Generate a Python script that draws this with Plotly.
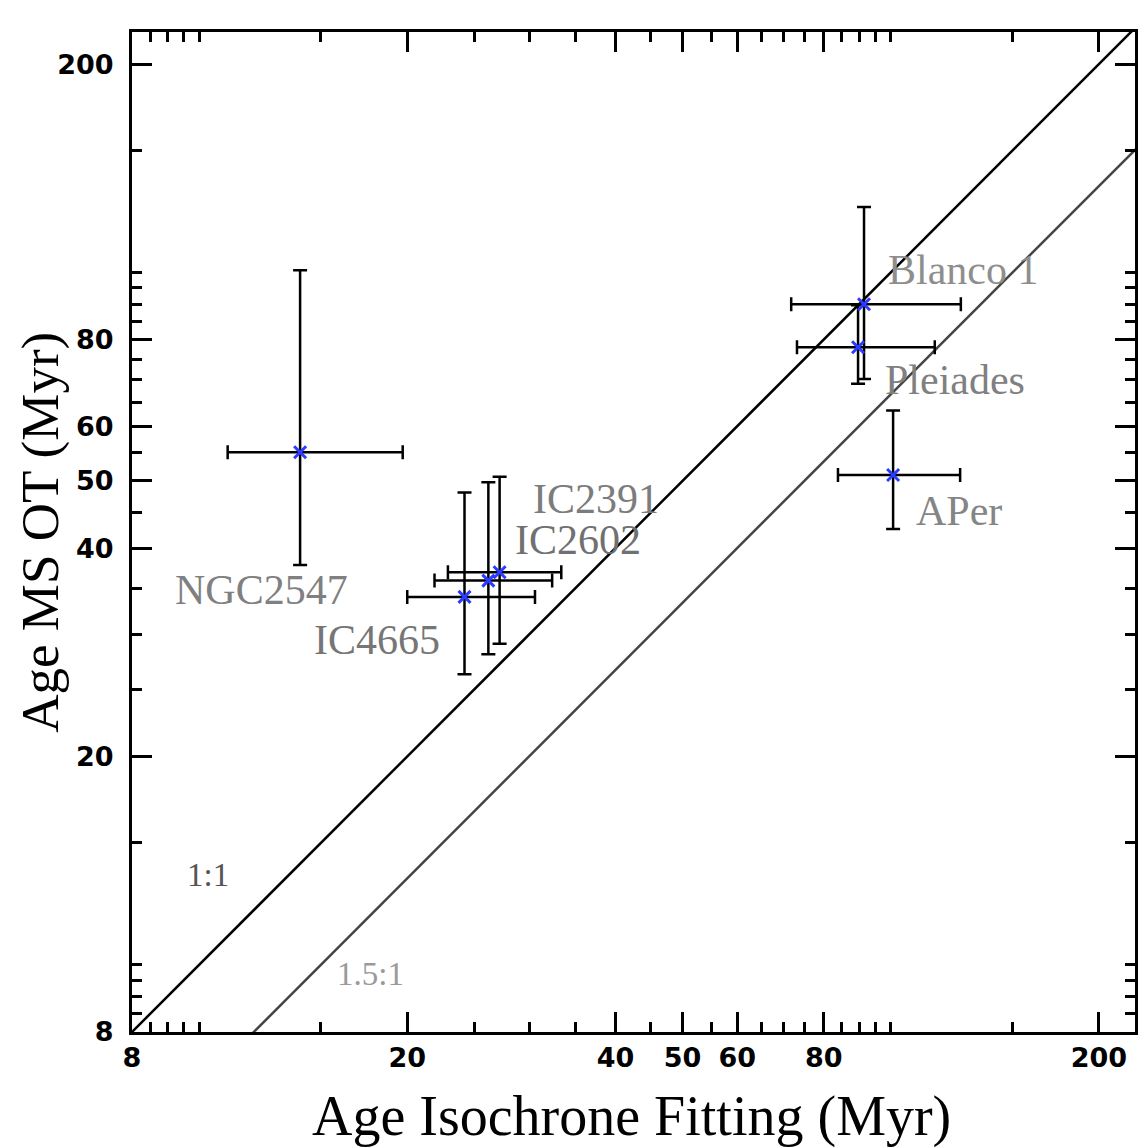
import numpy as np
import plotly.graph_objects as go

# cluster ages (Myr): isochrone fitting (x) vs MS turn-on (y)
clusters = ["NGC2547", "IC4665", "IC2602", "IC2391", "Blanco 1", "Pleiades", "APer"]
age_iso = [14.0, 24.2, 26.2, 27.2, 91.5, 89.7, 100.8]
age_iso_lo = [11.0, 20.0, 21.9, 22.9, 71.8, 73.2, 83.9]
age_iso_hi = [19.7, 30.6, 32.4, 33.4, 126.3, 115.8, 126.0]
age_ms = [55.0, 34.0, 35.9, 36.9, 90.0, 78.0, 51.0]
age_ms_lo = [37.8, 26.3, 28.1, 29.1, 70.2, 69.1, 42.6]
age_ms_hi = [100.8, 48.1, 49.8, 50.7, 124.3, 89.7, 63.2]

# where each name is written (left edge, vertical centre)
label_x = [9.2, 14.6, 28.5, 30.3, 98.8, 97.8, 108.4]
label_y = [34.8, 29.5, 41.1, 47.1, 100.8, 69.9, 45.2]
label_color = ["#808080", "#767676", "#707070", "#7c7c7c", "#8e8e8e", "#808080", "#858585"]

# reference relations y = x / ratio
ratios = [1.0, 1.5]
ratio_names = ["1:1", "1.5:1"]
ratio_colors = ["black", "#444444"]
ratio_text_colors = ["#555555", "#9a9a9a"]
ratio_label_x = [9.54, 15.7]
ratio_label_y = [13.5, 9.7]
line_span = [7.0, 260.0]

major_ticks = [8, 20, 40, 50, 60, 80, 200]
minor_ticks = [8.5, 9, 9.5, 10, 15, 25, 30, 35, 45, 55, 65, 70, 75, 85, 90, 95, 100, 150]

fig = go.Figure()

for r, c in zip(ratios, ratio_colors):
    fig.add_trace(go.Scatter(x=line_span, y=[v / r for v in line_span], mode="lines",
                             line=dict(color=c, width=2.5), showlegend=False, hoverinfo="skip"))

x = np.array(age_iso)
y = np.array(age_ms)
fig.add_trace(go.Scatter(
    x=x, y=y, mode="markers", showlegend=False,
    marker=dict(symbol="x-thin", size=12, color="#2a3cff", line=dict(width=3, color="#2a3cff")),
    error_x=dict(type="data", symmetric=False, array=np.array(age_iso_hi) - x,
                 arrayminus=x - np.array(age_iso_lo), color="black", thickness=2.5, width=7),
    error_y=dict(type="data", symmetric=False, array=np.array(age_ms_hi) - y,
                 arrayminus=y - np.array(age_ms_lo), color="black", thickness=2.5, width=7),
))

for name, lx, ly, col in zip(clusters, label_x, label_y, label_color):
    fig.add_annotation(x=np.log10(lx), y=np.log10(ly), text=name, showarrow=False,
                       xanchor="left", yanchor="middle", borderpad=0,
                       font=dict(family="Liberation Serif", size=42, color=col))

for name, lx, ly, col in zip(ratio_names, ratio_label_x, ratio_label_y, ratio_text_colors):
    fig.add_annotation(x=np.log10(lx), y=np.log10(ly), text=name, showarrow=False,
                       xanchor="left", yanchor="middle",
                       font=dict(family="Liberation Serif", size=33, color=col))

# axis titles
fig.add_annotation(xref="paper", yref="paper", x=0.4985, y=-0.084, text="Age Isochrone Fitting (Myr)",
                   showarrow=False, xanchor="center", yanchor="middle",
                   font=dict(family="Liberation Serif", size=56, color="black"))
fig.add_annotation(xref="paper", yref="paper", x=-0.092, y=0.5, text="Age MS OT (Myr)",
                   showarrow=False, xanchor="center", yanchor="middle", textangle=-90,
                   font=dict(family="Liberation Serif", size=53, color="black"))

axis_style = dict(
    type="log", showgrid=False, zeroline=False, automargin=False,
    showline=True, linewidth=3, linecolor="black", mirror="allticks",
    ticks="inside", ticklen=20, tickwidth=2.5, tickcolor="black",
    tickmode="array", tickvals=major_ticks, ticktext=[str(v) for v in major_ticks],
    tickfont=dict(family="DejaVu Sans", size=27, color="black", weight="bold"),
    minor=dict(tickmode="array", tickvals=minor_ticks, ticks="inside", ticklen=10,
               tickwidth=2.5, tickcolor="black", showgrid=False),
)

fig.update_xaxes(axis_style, range=[np.log10(8), 2.3532])
fig.update_yaxes(axis_style, range=[np.log10(8), 2.3474], ticklabelstandoff=10)

fig.update_layout(width=1148, height=1148, plot_bgcolor="white", paper_bgcolor="white",
                  margin=dict(l=124, r=21, t=24, b=124))

fig.write_html("out.html")
